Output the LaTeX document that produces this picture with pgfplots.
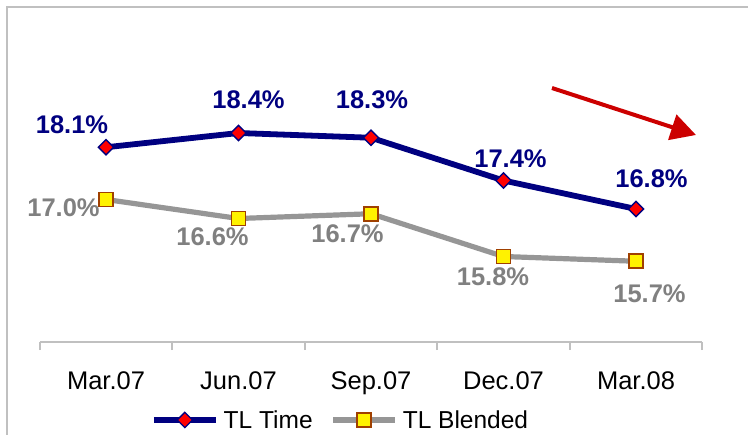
\documentclass[border=0pt]{standalone}
\usepackage{pgfplots}
\pgfplotsset{compat=1.18}
\usepackage{fontspec}
\setmainfont{Liberation Sans}
\usetikzlibrary{arrows.meta}
\definecolor{navyc}{RGB}{0,0,128}
\definecolor{grayline}{RGB}{150,150,150}
\definecolor{graytxt}{RGB}{128,128,128}
\definecolor{axgray}{RGB}{192,192,192}
\definecolor{brownc}{RGB}{160,64,0}
\definecolor{arrowred}{RGB}{204,0,0}
\newcommand{\bigf}{\fontsize{25.5bp}{30bp}\selectfont}
\newcommand{\legf}{\fontsize{24.5bp}{29bp}\selectfont}
\begin{document}
\begin{tikzpicture}
\useasboundingbox (-39.75bp,-93bp) rectangle (708.25bp,342bp);
\draw[axgray, line width=2bp] (-32.75bp,-93bp) -- (-32.75bp,335bp) -- (708.25bp,335bp);
\begin{axis}[
  at={(0,0)}, anchor=south west,
  scale only axis,
  width=662.5bp, height=308.75bp,
  xmin=-0.5, xmax=4.5, ymin=14, ymax=20.5,
  clip=false,
  hide y axis,
  axis x line*=bottom,
  x axis line style={-, draw=axgray, line width=2bp},
  xtick={0,1,2,3,4},
  xticklabels={Mar.07,Jun.07,Sep.07,Dec.07,Mar.08},
  major tick length=0pt,
  minor xtick={-0.5,0.5,1.5,2.5,3.5,4.5},
  minor tick length=8bp,
  tick align=outside,
  minor tick style={draw=axgray, line width=2bp},
  xticklabel style={font=\bigf, anchor=base, yshift=-47.5bp},
  legend style={at={(0.4525,-0.2526)}, anchor=center, draw=none, fill=none,
    legend columns=2, font=\legf, inner sep=0pt,
    nodes={inner xsep=0pt, inner ysep=0pt},
    /tikz/every odd column/.style={column sep=5bp},
    /tikz/every even column/.style={column sep=18bp}},
  legend image code/.code={\draw[#1, mark repeat=2, mark phase=2] plot coordinates {(0bp,0bp) (31bp,0bp) (62bp,0bp)};},
]
\addplot[navyc, line width=5.8bp, mark=square*, mark size=5.4bp,
  mark options={rotate=45, fill=red, draw=navyc, line width=1.3bp}]
  coordinates {(0,18.1) (1,18.4) (2,18.3) (3,17.4) (4,16.8)};
\addlegendentry{TL Time}
\addplot[grayline, line width=5.2bp, mark=square*, mark size=7bp,
  mark options={fill=yellow, draw=brownc, line width=1.6bp}]
  coordinates {(0,17.0) (1,16.6) (2,16.7) (3,15.8) (4,15.7)};
\addlegendentry{TL Blended}
% data labels
\begin{scope}[every node/.style={font=\bigf\bfseries, anchor=base, inner sep=0pt}]
\node[text=navyc] at (axis cs:-0.2566,18.4) {18.1\%};
\node[text=navyc] at (axis cs:1.0755,18.926) {18.4\%};
\node[text=navyc] at (axis cs:2.0075,18.926) {18.3\%};
\node[text=navyc] at (axis cs:3.0528,17.684) {17.4\%};
\node[text=navyc] at (axis cs:4.117,17.263) {16.8\%};
\node[text=graytxt] at (axis cs:-0.3208,16.632) {17.0\%};
\node[text=graytxt] at (axis cs:0.8038,16.042) {16.6\%};
\node[text=graytxt] at (axis cs:1.8226,16.105) {16.7\%};
\node[text=graytxt] at (axis cs:2.9208,15.179) {15.8\%};
\node[text=graytxt] at (axis cs:4.1019,14.842) {15.7\%};
\end{scope}
\draw[arrowred, line width=4bp, -{Triangle[length=25bp, width=26bp]}]
  (axis cs:3.366,19.347) -- (axis cs:4.453,18.358);
\end{axis}
\end{tikzpicture}
\end{document}
